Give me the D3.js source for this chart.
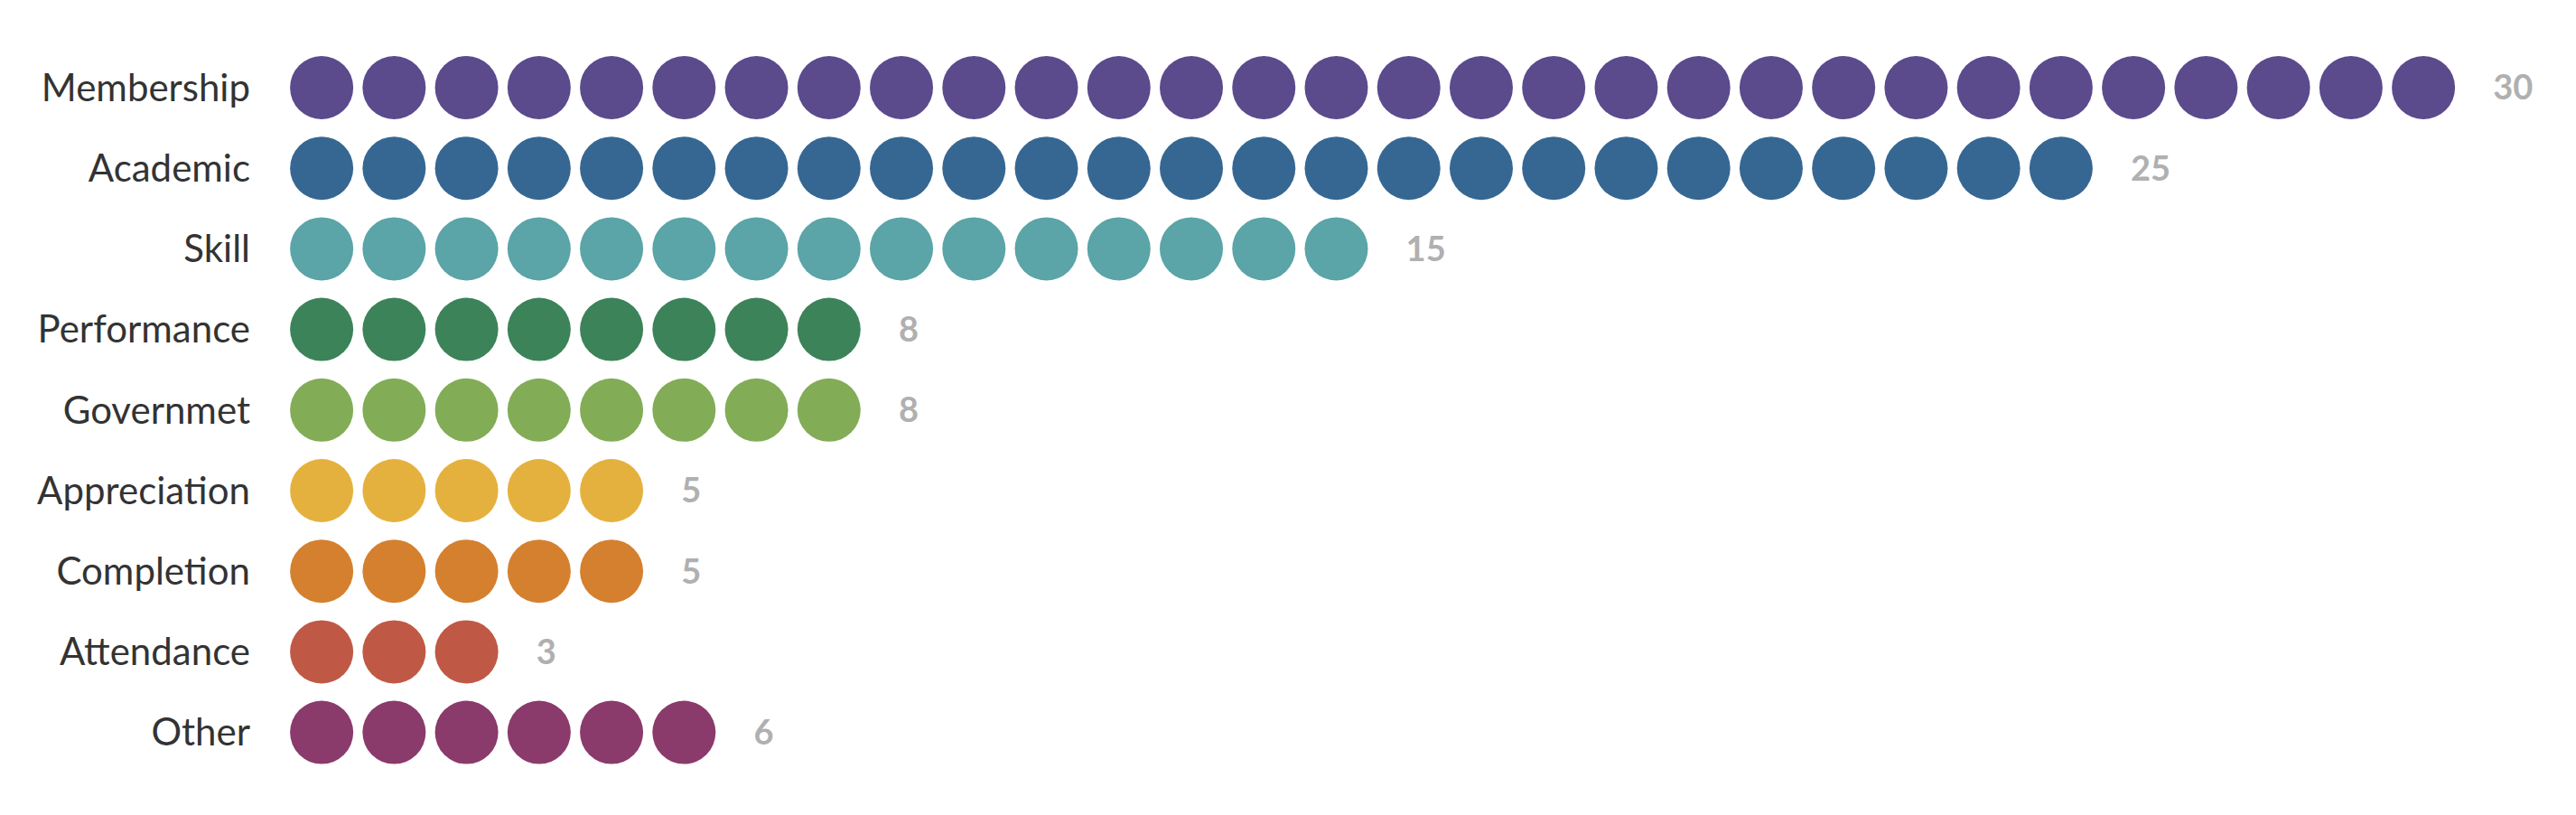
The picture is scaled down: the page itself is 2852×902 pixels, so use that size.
<!DOCTYPE html>
<html>
<head>
<meta charset="utf-8">
<script src="https://cdn.jsdelivr.net/npm/d3@7"></script>
<style>
html,body{margin:0;padding:0;background:#fff;}
svg{display:block;}
</style>
</head>
<body>
<svg id="chart" width="2852" height="902"></svg>
<script>
const categories = ["Membership","Academic","Skill","Performance","Governmet","Appreciation","Completion","Attendance","Other"];
const values = [30,25,15,8,8,5,5,3,6];
const colors = ["#5b4a8c","#366792","#5ba4a7","#3c8359","#82ac56","#e5b13e","#d5802f","#bf5945","#8a3a6b"];

const svg = d3.select("#chart");
const maxUnits = 30;
const x = d3.scaleLinear().domain([0, maxUnits]).range([316, 316 + maxUnits * 80.24]);
const y = d3.scalePoint().domain(categories).range([97, 810.6]);
const r = 35;
const font = "'Source Sans Pro', Lato, 'Noto Sans', sans-serif";

const rows = categories.map((c, i) => ({cat: c, value: values[i], color: colors[i]}));

const g = svg.append("g");
const row = g.selectAll("g.row").data(rows).join("g").attr("class", "row");

row.selectAll("circle")
  .data(d => d3.range(d.value).map(k => ({k, d})))
  .join("circle")
  .attr("cx", e => x(e.k + 0.5))
  .attr("cy", e => y(e.d.cat))
  .attr("r", r)
  .attr("fill", e => e.d.color);

row.append("text")
  .attr("x", 277)
  .attr("y", d => y(d.cat))
  .attr("dy", "0.35em")
  .attr("text-anchor", "end")
  .attr("font-family", font)
  .attr("font-size", 42)
  .attr("fill", "#333")
  .text(d => d.cat);

row.append("text")
  .attr("x", d => x(d.value) + 37)
  .attr("y", d => y(d.cat))
  .attr("dy", "0.35em")
  .attr("font-family", font)
  .attr("font-size", 38)
  .attr("font-weight", "bold")
  .attr("fill", "#b0b0b0")
  .text(d => d.value);
</script>
</body>
</html>
